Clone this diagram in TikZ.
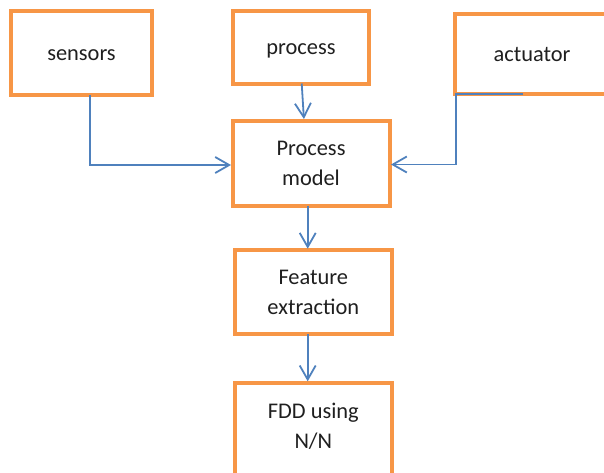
\documentclass[tikz,border=0pt]{standalone}
\usepackage{fontspec}
\setmainfont{Carlito}
\usetikzlibrary{arrows.meta}
\definecolor{boxorange}{HTML}{F79646}
\definecolor{lineblue}{HTML}{4F81BD}
\begin{document}
\begin{tikzpicture}[x=1pt,y=-1pt,
  blk/.style={draw=boxorange, line width=4pt, fill=white, inner sep=0pt, outer sep=0pt, align=center,
              font=\fontsize{22.4}{30}\selectfont, text=black!88},
  oneline/.style={text height=17pt, text depth=2pt},
  conn/.style={draw=lineblue, line width=1.8pt, shorten >=1.5pt,
               -{Straight Barb[length=14pt,width=16pt]}}
]
\useasboundingbox (0,0) rectangle (604,472);
% boxes
\node[blk, oneline, minimum width=141pt, minimum height=84pt] (sensors) at (81.5,52.5) {sensors};
\node[blk, oneline, minimum width=136pt, minimum height=73pt] (process) at (301,47) {process};
\node[blk, oneline, minimum width=154pt, minimum height=80pt] (act) at (532,54.3) {actuator};
\node[blk, minimum width=157pt, minimum height=85pt] (pm) at (311,163) {Process\\model};
\node[blk, minimum width=157pt, minimum height=84pt] (feat) at (313.3,292.2) {Feature\\extraction};
\node[blk, text depth=15pt, minimum width=157pt, minimum height=101pt] (fdd) at (313.3,433.3) {FDD using\\N/N};
% connectors
\draw[conn] ([xshift=8.5pt]sensors.south) |- ([yshift=-2pt]pm.west);
\draw[conn] ([xshift=0.7pt]process.south) -- ([xshift=-7pt]pm.north);
\coordinate (aend) at (523,94.3);
\draw[conn] (aend) -- ([xshift=0.7pt]act.south west) |- ([yshift=-1.5pt]pm.east);
\draw[conn] ([xshift=-3.3pt]pm.south) -- ([xshift=-5.6pt]feat.north);
\draw[conn] ([xshift=-5.6pt]feat.south) -- ([xshift=-5.6pt]fdd.north);
\end{tikzpicture}
\end{document}
